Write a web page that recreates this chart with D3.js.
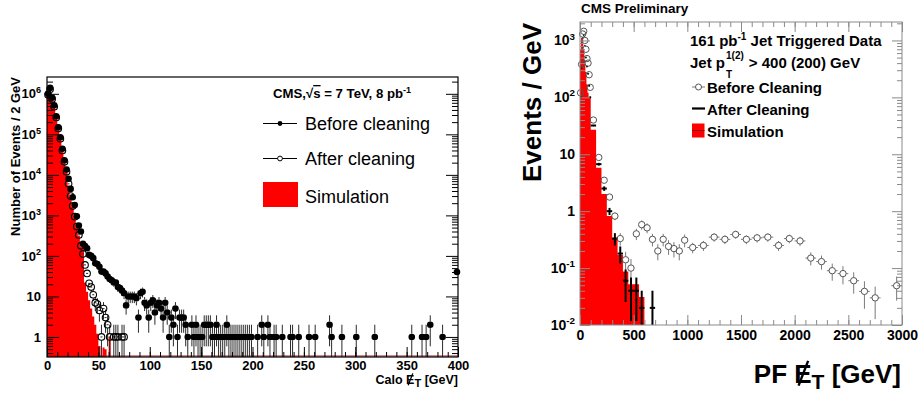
<!DOCTYPE html>
<html>
<head>
<meta charset="utf-8">
<script src="https://cdn.jsdelivr.net/npm/d3@7"></script>
<style>
  body { margin: 0; background: #fff; }
  svg { font-family: "Liberation Sans", Arial, Helvetica, sans-serif; }
</style>
</head>
<body>
<svg id="chart" width="922" height="396"></svg>
<script>
// ---------- left panel: Calo MET, events per 2 GeV bin, 0-400 GeV ----------
const caloBinWidth = 2;
const caloBefore = [
  1.0e6, 1.4e6, 8.0e5, 5.2e5, 2.8e5, 1.5e5, 8.5e4, 4.4e4, 2.3e4, 1.35e4, 8.0e3, 4.5e3, 2.8e3, 1.8e3, 950, 560, 400, 200, 175, 155,
  106, 100, 88, 66, 63, 54, 41, 41, 37, 31, 27, 25, 22, 22, 17, 16, 14, 12, 6, 10,
  10, 10, 10, 9, 3, 12, 13, 7, 6, 3, 7, 8, 4, 6, 7, 5, 3, 7, 4, 1,
  3, 2, 5, 1, 3, 3, 3, 2, 1, 0, 2, 1, 2, 1, 1, 1, 2, 2, 2, 2,
  1, 1, 2, 1, 1, 1, 1, 2, 1, 1, 1, 1, 1, 1, 1, 1, 1, 1, 1, 1,
  0, 0, 1, 0, 2, 1, 0, 2, 1, 0, 1, 1, 0, 0, 1, 0, 0, 0, 1, 1,
  0, 0, 1, 0, 0, 0, 0, 1, 0, 0, 1, 0, 0, 0, 0, 0, 0, 2, 1, 0,
  0, 0, 0, 1, 0, 0, 0, 0, 0, 0, 1, 0, 0, 0, 0, 0, 0, 0, 0, 1,
  0, 0, 0, 0, 0, 0, 0, 0, 0, 0, 0, 0, 0, 0, 0, 0, 0, 1, 0, 0,
  0, 0, 1, 0, 1, 0, 2, 0, 0, 0, 0, 0, 1, 0, 0, 0, 0, 0, 0, 40
];
const caloAfter = [
  9.5e5, 1.3e6, 7.5e5, 4.8e5, 2.6e5, 1.4e5, 7.8e4, 4.0e4, 2.1e4, 1.2e4, 6.0e3, 3.0e3, 1.7e3, 930, 530, 330, 177, 112, 60, 37,
  21, 17, 11, 7, 6.5, 4.5, 1, 5, 3, 2, 1, 0, 1, 1, 1, 0, 1, 1
];
const caloSim = [
  1.1e6, 1.2e6, 7.0e5, 4.5e5, 2.5e5, 1.35e5, 7.5e4, 4.0e4, 2.1e4, 1.15e4, 5.5e3, 2.8e3, 1.6e3, 880, 500, 310, 170, 150, 22, 13,
  8, 5, 3.2, 2, 1.2, 0.6, 0.35, 0.55, 0.5, 0, 1.0
];
const caloXTicks = [0, 50, 100, 150, 200, 250, 300, 350, 400];
const caloYTicks = [1, 10, 1e2, 1e3, 1e4, 1e5, 1e6];

// ---------- right panel: PF MET, events per GeV ----------
const pfEdges = [0, 10, 20, 30, 40, 50, 60, 70, 80, 90, 100, 150, 200, 250, 300, 350, 400, 450, 500, 550, 600,
  650, 700, 750, 800, 850, 900, 950, 1000, 1100, 1200, 1300, 1400, 1500, 1600, 1700, 1800, 1900, 2000,
  2100, 2200, 2300, 2400, 2500, 2600, 2700, 2800, 2900, 3000];
const pfBefore = [120, 380, 1300, 1450, 1000, 700, 480, 400, 250, 150,
  40, 8.8, 3.5, 1.77, 0.82, 0.33, 0.14, 0.10, 0.40, 0.58, 0.51, 0.32, 0.20, 0.32, 0.24, 0.22, 0.20, 0.31,
  0.23, 0.25, 0.35, 0.32, 0.39, 0.32, 0.34, 0.35, 0.25, 0.33, 0.30, 0.15, 0.13, 0.09, 0.08, 0.06, 0.039, 0.03, 0, 0.049];
const pfAfter = [100, 330, 1100, 1250, 800, 500, 350, 260, 160, 100,
  32, 6.7, 2.5, 1.0, 0.33, 0.18, 0.06, 0.04, 0.04, 0.02, 0, 0.02];
const pfSim = [700, 1100, 1050, 700, 450, 280, 170, 120, 100, 100,
  27, 5.8, 2.0, 0.82, 0.34, 0.17, 0.087, 0.052, 0.052, 0.031];
const pfXTicks = [0, 500, 1000, 1500, 2000, 2500, 3000];
const pfYTicks = [1e-2, 1e-1, 1, 10, 1e2, 1e3];

const svg = d3.select('#chart');

// labels like 10^3 with a raised exponent
function powLabels(g) {
  g.selectAll('.tick text').each(function (d) {
    const t = d3.select(this).text('');
    const e = Math.round(Math.log10(d));
    if (e === 0) t.text('1');
    else if (e === 1) t.text('10');
    else {
      t.append('tspan').text('10');
      t.append('tspan').attr('dy', '-0.6em').attr('font-size', '0.7em').text(e);
    }
  });
}

function minorLog(y) {
  return y.ticks().filter(v => Math.abs(Math.log10(v) - Math.round(Math.log10(v))) > 1e-6);
}

// slash through the E of a missing-ET label
function slashE(textNode, idx, fs, width) {
  const p = textNode.getStartPositionOfChar(idx);
  const ext = textNode.getExtentOfChar(idx);
  d3.select(textNode.parentNode).append('line')
    .attr('x1', p.x + ext.width * 0.25).attr('y1', p.y + fs * 0.1)
    .attr('x2', p.x + ext.width * 0.8).attr('y2', p.y - fs * 0.85)
    .attr('stroke', '#000').attr('stroke-width', width);
}

// filled step histogram from bin edges and contents
function stepArea(edges, values, x, y, bottom) {
  const pts = values.map((v, i) => ({e: edges[i], v}));
  pts.push({e: edges[values.length], v: 0});
  return d3.area()
    .curve(d3.curveStepAfter)
    .x(d => x(d.e))
    .y0(bottom)
    .y1(d => d.v > 0 ? y(d.v) : bottom)(pts);
}

// ================= LEFT PANEL =================
{
  const x = d3.scaleLinear().domain([0, 400]).range([47, 458]);
  const y = d3.scaleLog().domain([0.32, 2.6e6]).range([357, 77]);
  const g = svg.append('g');

  g.append('clipPath').attr('id', 'clipL').append('rect')
    .attr('x', 47).attr('y', 77).attr('width', 411).attr('height', 280);
  const plot = g.append('g').attr('clip-path', 'url(#clipL)');

  // simulation histogram
  const simEdges = d3.range(caloSim.length + 1).map(i => i * caloBinWidth);
  plot.append('path').attr('d', stepArea(simEdges, caloSim, x, y, 358)).attr('fill', '#ff0000');
  plot.append('line').attr('x1', 47).attr('x2', 458).attr('y1', 356).attr('y2', 356)
    .attr('stroke', '#9b1b1b').attr('stroke-width', 1.2);

  const r = 3.3;
  const pts = arr => arr.map((v, i) => ({c: i * caloBinWidth + caloBinWidth / 2, v}))
    .filter(d => d.v > 0);

  function errBars(layer, data, color) {
    data.forEach(d => {
      const px = x(d.c), py = y(d.v);
      const up = y(d.v + Math.sqrt(d.v));
      const lo = d.v - Math.sqrt(d.v) > 0 ? y(d.v - Math.sqrt(d.v)) : 360;
      if (up < py - r) layer.append('line').attr('x1', px).attr('x2', px).attr('y1', up).attr('y2', py - r);
      if (lo > py + r) layer.append('line').attr('x1', px).attr('x2', px).attr('y1', py + r).attr('y2', lo);
      layer.append('line').attr('x1', x(d.c - 1)).attr('x2', x(d.c + 1)).attr('y1', py).attr('y2', py);
    });
    layer.attr('stroke', color).attr('stroke-width', 1);
  }

  const before = pts(caloBefore);
  const after = pts(caloAfter);
  errBars(plot.append('g'), before, '#2a2a2a');
  errBars(plot.append('g'), after, '#2a2a2a');

  g.append('g').selectAll('circle').data(before).enter().append('circle')
    .attr('cx', d => x(d.c)).attr('cy', d => y(d.v)).attr('r', r).attr('fill', '#000');
  g.append('g').selectAll('circle').data(after).enter().append('circle')
    .attr('cx', d => x(d.c)).attr('cy', d => y(d.v)).attr('r', r)
    .attr('fill', 'none').attr('stroke', '#000').attr('stroke-width', 1.1);

  // frame
  g.append('rect').attr('x', 47).attr('y', 77).attr('width', 411).attr('height', 280)
    .attr('fill', 'none').attr('stroke', '#000').attr('stroke-width', 1.2);

  // axes
  const font = s => s.attr('font-family', null).attr('font-size', 13).attr('font-weight', 'bold');
  g.append('g').attr('transform', 'translate(0,357)')
    .call(d3.axisBottom(x).tickValues(caloXTicks).tickSize(-10).tickPadding(4).tickFormat(d => d))
    .call(s => s.select('.domain').remove()).call(font);
  g.append('g').attr('transform', 'translate(0,357)')
    .call(d3.axisBottom(x).tickValues(d3.range(0, 401, 10)).tickSize(-5).tickFormat(''))
    .call(s => s.select('.domain').remove());
  g.append('g').attr('transform', 'translate(47,0)')
    .call(d3.axisLeft(y).tickValues(caloYTicks).tickSize(-12).tickPadding(6))
    .call(s => s.select('.domain').remove()).call(font).call(powLabels);
  g.append('g').attr('transform', 'translate(47,0)')
    .call(d3.axisLeft(y).tickValues(minorLog(y)).tickSize(-6).tickFormat(''))
    .call(s => s.select('.domain').remove());
  g.append('g').attr('transform', 'translate(458,0)')
    .call(d3.axisRight(y).tickValues(caloYTicks).tickSize(-12).tickFormat(''))
    .call(s => s.select('.domain').remove());
  g.append('g').attr('transform', 'translate(458,0)')
    .call(d3.axisRight(y).tickValues(minorLog(y)).tickSize(-6).tickFormat(''))
    .call(s => s.select('.domain').remove());

  // axis titles
  g.append('text').attr('transform', 'translate(20,77) rotate(-90)')
    .attr('text-anchor', 'end').attr('font-size', 13).attr('font-weight', 'bold')
    .text('Number of Events / 2 GeV');

  const xt = g.append('text').attr('x', 458).attr('y', 384).attr('text-anchor', 'end')
    .attr('font-size', 12.5).attr('font-weight', 'bold');
  xt.append('tspan').text('Calo E');
  xt.append('tspan').attr('dy', 3).attr('font-size', 11).text('T');
  xt.append('tspan').attr('dy', -3).text(' [GeV]');
  slashE(xt.node(), 5, 12.5, 1.3);

  // header + legend
  const hd = g.append('text').attr('x', 273).attr('y', 98).attr('font-size', 13.2).attr('font-weight', 'bold');
  hd.append('tspan').text('CMS,√');
  hd.append('tspan').attr('text-decoration', 'overline').text('s');
  hd.append('tspan').text(' = 7 TeV, 8 pb');
  hd.append('tspan').attr('dy', -5).attr('font-size', 9).text('-1');

  const lg = g.append('g').attr('font-size', 18);
  lg.append('line').attr('x1', 263).attr('x2', 297).attr('y1', 123.5).attr('y2', 123.5).attr('stroke', '#000');
  lg.append('circle').attr('cx', 280).attr('cy', 123.5).attr('r', 2.4).attr('fill', '#000');
  lg.append('text').attr('x', 305).attr('y', 130).text('Before cleaning');
  lg.append('line').attr('x1', 263).attr('x2', 297).attr('y1', 158.5).attr('y2', 158.5).attr('stroke', '#000');
  lg.append('circle').attr('cx', 280).attr('cy', 158.5).attr('r', 2.4).attr('fill', '#fff').attr('stroke', '#000');
  lg.append('text').attr('x', 305).attr('y', 165).text('After cleaning');
  lg.append('rect').attr('x', 263).attr('y', 182).attr('width', 35).attr('height', 25).attr('fill', '#ff0000');
  lg.append('text').attr('x', 305).attr('y', 202.5).text('Simulation');
}

// ================= RIGHT PANEL =================
{
  const x = d3.scaleLinear().domain([0, 3000]).range([580, 902]);
  const y = d3.scaleLog().domain([0.01, 2110]).range([325, 22]);
  const g = svg.append('g');

  g.append('clipPath').attr('id', 'clipR').append('rect')
    .attr('x', 580).attr('y', 22).attr('width', 322).attr('height', 303);
  const plot = g.append('g').attr('clip-path', 'url(#clipR)');

  const bins = arr => arr.map((v, i) => ({lo: pfEdges[i], hi: pfEdges[i + 1], v})).filter(d => d.v > 0);

  plot.append('path').attr('d', stepArea(pfEdges, pfSim, x, y, 326)).attr('fill', '#ff0000');

  const err = d => Math.sqrt(d.v * (d.hi - d.lo)) / (d.hi - d.lo);
  const r = 3.2;

  // before cleaning: open grey circles
  const bef = bins(pfBefore);
  const eb = plot.append('g').attr('stroke', '#7a7a7a').attr('stroke-width', 1);
  bef.forEach(d => {
    const px = x((d.lo + d.hi) / 2), py = y(d.v);
    const up = y(d.v + err(d));
    const lo = d.v - err(d) > 0 ? y(d.v - err(d)) : 330;
    if (up < py - r) eb.append('line').attr('x1', px).attr('x2', px).attr('y1', up).attr('y2', py - r);
    if (lo > py + r) eb.append('line').attr('x1', px).attr('x2', px).attr('y1', py + r).attr('y2', lo);
    if (x(d.lo) < px - r) {
      eb.append('line').attr('x1', x(d.lo)).attr('x2', px - r).attr('y1', py).attr('y2', py);
      eb.append('line').attr('x1', px + r).attr('x2', x(d.hi)).attr('y1', py).attr('y2', py);
    }
  });
  g.append('g').selectAll('circle').data(bef).enter().append('circle')
    .attr('cx', d => x((d.lo + d.hi) / 2)).attr('cy', d => y(d.v)).attr('r', r)
    .attr('fill', 'none').attr('stroke', '#555').attr('stroke-width', 1);

  // after cleaning: thick black crosses
  const aft = bins(pfAfter);
  const ab = plot.append('g').attr('stroke', '#000').attr('stroke-width', 2);
  aft.forEach(d => {
    const px = x((d.lo + d.hi) / 2), py = y(d.v);
    const up = y(d.v + err(d));
    const lo = d.v - err(d) > 0 ? y(d.v - err(d)) : 330;
    ab.append('line').attr('x1', px).attr('x2', px).attr('y1', up).attr('y2', lo);
    ab.append('line').attr('x1', x(d.lo)).attr('x2', x(d.hi)).attr('y1', py).attr('y2', py);
  });

  // frame
  g.append('rect').attr('x', 580).attr('y', 22).attr('width', 322).attr('height', 303)
    .attr('fill', 'none').attr('stroke', '#8a8a8a').attr('stroke-width', 1);

  const font = s => s.attr('font-family', null).attr('font-size', 14).attr('font-weight', 'bold')
    .call(t => t.selectAll('text').attr('fill', '#000'));
  const grey = s => s.attr('color', '#8a8a8a');
  g.append('g').attr('transform', 'translate(0,325)')
    .call(d3.axisBottom(x).tickValues(pfXTicks).tickSize(-10).tickPadding(5).tickFormat(d => d))
    .call(s => s.select('.domain').remove()).call(grey).call(font);
  g.append('g').attr('transform', 'translate(0,325)')
    .call(d3.axisBottom(x).tickValues(d3.range(0, 3001, 100)).tickSize(-5).tickFormat(''))
    .call(s => s.select('.domain').remove()).call(grey);
  g.append('g').attr('transform', 'translate(0,22)')
    .call(d3.axisTop(x).tickValues(pfXTicks).tickSize(-10).tickFormat(''))
    .call(s => s.select('.domain').remove()).call(grey);
  g.append('g').attr('transform', 'translate(0,22)')
    .call(d3.axisTop(x).tickValues(d3.range(0, 3001, 100)).tickSize(-5).tickFormat(''))
    .call(s => s.select('.domain').remove()).call(grey);
  g.append('g').attr('transform', 'translate(580,0)')
    .call(d3.axisLeft(y).tickValues(pfYTicks).tickSize(-10).tickPadding(5))
    .call(s => s.select('.domain').remove()).call(grey).call(font).call(powLabels);
  g.append('g').attr('transform', 'translate(580,0)')
    .call(d3.axisLeft(y).tickValues(minorLog(y)).tickSize(-5).tickFormat(''))
    .call(s => s.select('.domain').remove()).call(grey);
  g.append('g').attr('transform', 'translate(902,0)')
    .call(d3.axisRight(y).tickValues(pfYTicks).tickSize(-10).tickFormat(''))
    .call(s => s.select('.domain').remove()).call(grey);
  g.append('g').attr('transform', 'translate(902,0)')
    .call(d3.axisRight(y).tickValues(minorLog(y)).tickSize(-5).tickFormat(''))
    .call(s => s.select('.domain').remove()).call(grey);

  // titles
  g.append('text').attr('x', 581).attr('y', 13).attr('font-size', 13.5).attr('font-weight', 'bold')
    .text('CMS Preliminary');
  g.append('text').attr('transform', 'translate(541,23) rotate(-90)')
    .attr('text-anchor', 'end').attr('font-size', 26).attr('font-weight', 'bold')
    .text('Events / GeV');

  const xt = g.append('text').attr('x', 901).attr('y', 383).attr('text-anchor', 'end')
    .attr('font-size', 26).attr('font-weight', 'bold');
  xt.append('tspan').text('PF E');
  xt.append('tspan').attr('dy', 6).attr('font-size', 21).text('T');
  xt.append('tspan').attr('dy', -6).text(' [GeV]');
  slashE(xt.node(), 3, 26, 2.4);

  // legend
  const lg = g.append('g').attr('font-size', 15).attr('font-weight', 'bold');
  const l1 = lg.append('text').attr('x', 690).attr('y', 46);
  l1.append('tspan').text('161 pb');
  l1.append('tspan').attr('dy', -6).attr('font-size', 10).text('-1');
  l1.append('tspan').attr('dy', 6).text(' Jet Triggered Data');

  const l2 = lg.append('text').attr('x', 690).attr('y', 68).text('Jet p');
  const w2 = l2.node().getComputedTextLength();
  const sup = lg.append('text').attr('x', 691 + w2).attr('y', 59).attr('font-size', 10).text('1(2)');
  lg.append('text').attr('x', 691 + w2).attr('y', 78).attr('font-size', 10).text('T');
  lg.append('text').attr('x', 696 + w2 + sup.node().getComputedTextLength()).attr('y', 68)
    .text('> 400 (200) GeV');

  lg.append('line').attr('x1', 692).attr('x2', 705).attr('y1', 87).attr('y2', 87).attr('stroke', '#7a7a7a');
  lg.append('circle').attr('cx', 698.5).attr('cy', 87).attr('r', 3).attr('fill', '#fff').attr('stroke', '#555');
  lg.append('text').attr('x', 707).attr('y', 92.5).text('Before Cleaning');
  lg.append('line').attr('x1', 692).attr('x2', 705).attr('y1', 108.5).attr('y2', 108.5)
    .attr('stroke', '#000').attr('stroke-width', 2.2);
  lg.append('text').attr('x', 707).attr('y', 114.5).text('After Cleaning');
  lg.append('rect').attr('x', 692).attr('y', 123.5).attr('width', 12.5).attr('height', 14).attr('fill', '#ff0000');
  lg.append('line').attr('x1', 692).attr('x2', 704.5).attr('y1', 130.5).attr('y2', 130.5)
    .attr('stroke', '#7a0000').attr('stroke-width', 0.8);
  lg.append('text').attr('x', 707).attr('y', 136.5).text('Simulation');
}
</script>
</body>
</html>
